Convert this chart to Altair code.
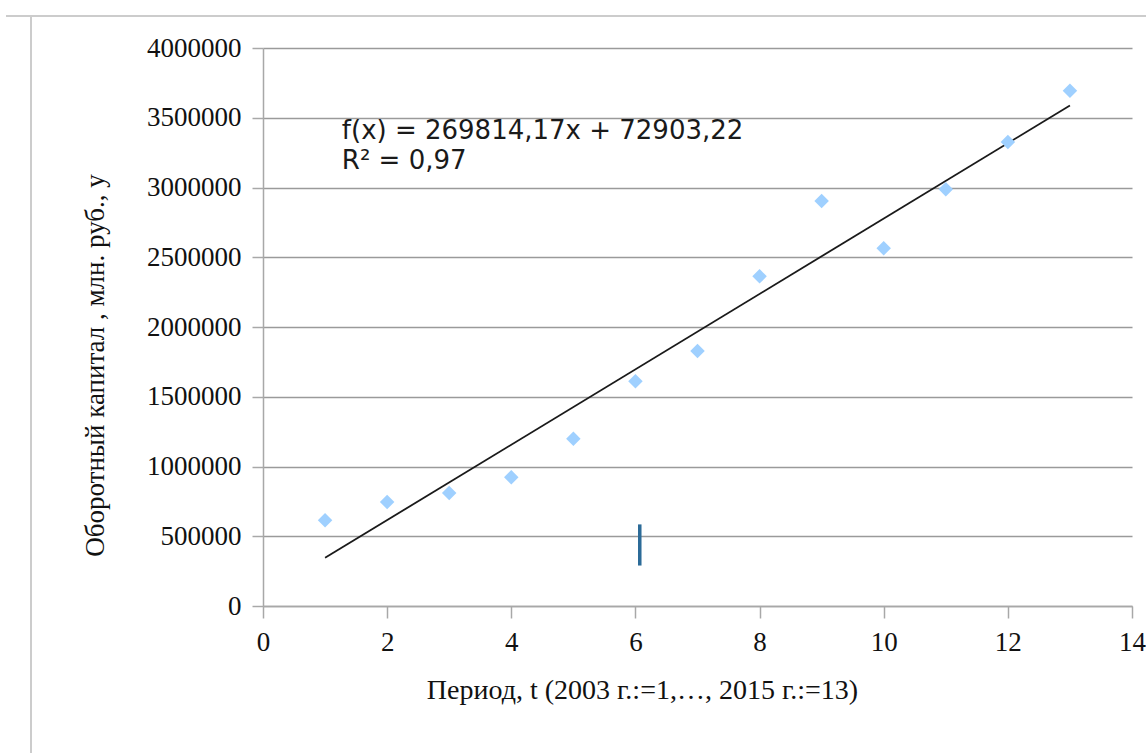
import altair as alt
import pandas as pd

# Data
period = [1, 2, 3, 4, 5, 6, 7, 8, 9, 10, 11, 12, 13]
capital = [614000, 746000, 810000, 923000, 1199000, 1611000, 1828000,
           2363000, 2903000, 2564000, 2987000, 3326000, 3694000]

eq_text = ["f(x) = 269814,17x + 72903,22", "R² = 0,97"]
eq_x = [1.27]
eq_y = [3500000]

marker_x = [6.07]
marker_y = [585000]
marker_y2 = [290000]

x_ticks = [0, 2, 4, 6, 8, 10, 12, 14]
y_ticks = [0, 500000, 1000000, 1500000, 2000000, 2500000, 3000000, 3500000, 4000000]

df = pd.DataFrame({"t": period, "y": capital})
ann = pd.DataFrame({"t": eq_x, "y": eq_y, "label": [eq_text]})
mk = pd.DataFrame({"t": marker_x, "y": marker_y, "y2": marker_y2})

serif = "Liberation Serif"
sans = "DejaVu Sans"

xscale = alt.Scale(domain=[0, 14], nice=False, zero=True)
yscale = alt.Scale(domain=[0, 4000000], nice=False)

xaxis = alt.Axis(
    values=x_ticks, grid=False, domainColor="#a8a8a8", tickColor="#a8a8a8",
    tickSize=12, domainWidth=1.5, tickWidth=1.5,
    labelFont=serif, labelFontSize=27, labelColor="#111111", labelPadding=11,
    labelFlush=False, format="d",
    title="Период, t (2003 г.:=1,…, 2015 г.:=13)",
    titleFont=serif, titleFontSize=28, titleFontWeight="normal", titleColor="#111111",
    titleX=379, titleY=84, titleAlign="center", titleBaseline="middle",
)
yaxis = alt.Axis(
    values=y_ticks, grid=True, gridColor="#9a9a9a", gridWidth=1.5,
    domainColor="#a8a8a8", tickColor="#a8a8a8", tickSize=11,
    domainWidth=1.5, tickWidth=1.5,
    labelFont=serif, labelFontSize=27, labelColor="#111111", labelPadding=11,
    format="d",
    title="Оборотный капитал , млн. руб., y",
    titleFont=serif, titleFontSize=27, titleFontWeight="normal", titleColor="#111111",
    titleX=-168, titleY=317, titleAngle=270, titleAlign="center", titleBaseline="middle",
)

base = alt.Chart(df)

points = base.mark_point(shape="diamond", filled=True, size=210, color="#9fd0ff", opacity=1).encode(
    x=alt.X("t:Q", scale=xscale, axis=xaxis),
    y=alt.Y("y:Q", scale=yscale, axis=yaxis),
)

trend = base.transform_regression("t", "y", extent=[1, 13]).mark_line(
    color="#1a1a1a", strokeWidth=1.8
).encode(x=alt.X("t:Q", scale=xscale), y=alt.Y("y:Q", scale=yscale))

label = alt.Chart(ann).mark_text(
    font=sans, fontSize=26, align="left", baseline="top", color="#1a1a1a", lineHeight=30
).encode(x=alt.X("t:Q", scale=xscale), y=alt.Y("y:Q", scale=yscale), text="label:N")

marker = alt.Chart(mk).mark_rule(color="#2c6b98", strokeWidth=3.5).encode(
    x=alt.X("t:Q", scale=xscale), y=alt.Y("y:Q", scale=yscale), y2="y2:Q"
)

frame_top = alt.Chart(df).mark_rule(color="#cccccc", strokeWidth=2).encode(
    x=alt.value(-257), x2=alt.value(883), y=alt.value(-32)
)
frame_left = alt.Chart(df).mark_rule(color="#cccccc", strokeWidth=2).encode(
    x=alt.value(-232), y=alt.value(-32), y2=alt.value(710)
)

chart = alt.layer(frame_top, frame_left, trend, points, marker, label).properties(
    width=869, height=558,
    autosize=alt.AutoSizeParams(type="none"),
    padding={"left": 263, "top": 48, "right": 14, "bottom": 147},
    background="white",
).configure_view(stroke=None)

chart.save("out.html", embed_options={"renderer": "svg", "actions": False})
